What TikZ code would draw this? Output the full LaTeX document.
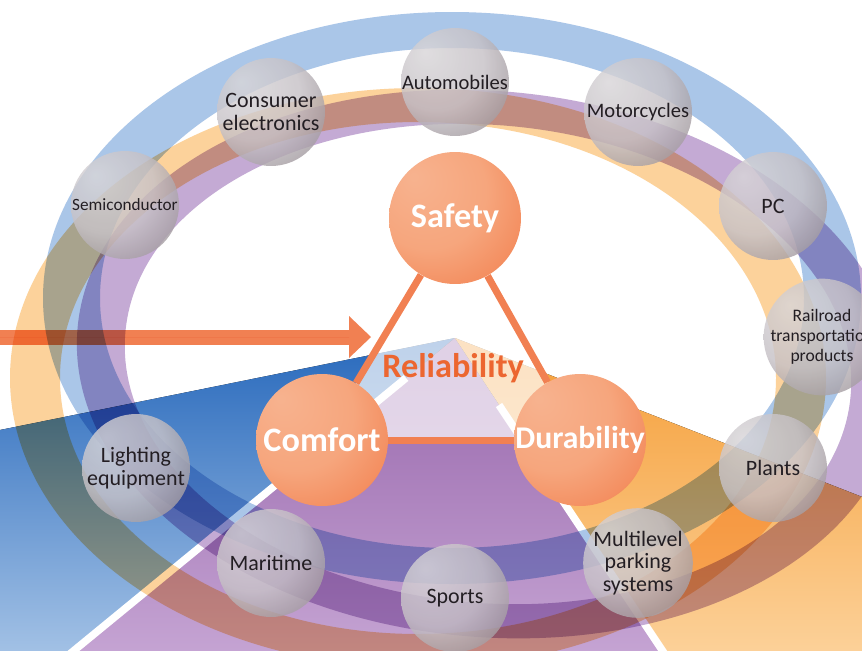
\documentclass[tikz,border=0pt]{standalone}
\usepackage{fontspec}
\setmainfont{Carlito}
\usepackage{xcolor}
\usetikzlibrary{arrows.meta}

\definecolor{ringblue}{RGB}{170,198,232}
\definecolor{ringorange}{RGB}{252,210,155}
\definecolor{ringpurple}{RGB}{196,170,212}
\definecolor{blueTop}{RGB}{40,105,188}
\definecolor{blueBottom}{RGB}{165,195,230}
\definecolor{purpleTop}{RGB}{150,100,170}
\definecolor{purpleBottom}{RGB}{198,165,212}
\definecolor{orangeTop}{RGB}{245,158,55}
\definecolor{orangeBottom}{RGB}{252,210,155}
\definecolor{linkorange}{RGB}{241,128,82}
\definecolor{titleorange}{RGB}{236,102,48}
\definecolor{labelgrey}{RGB}{35,30,35}

\pgfdeclareradialshading{glassball}{\pgfpoint{-14bp}{14bp}}{%
  rgb(0bp)=(0.85,0.84,0.85); rgb(22bp)=(0.78,0.76,0.78); rgb(44bp)=(0.54,0.50,0.52); rgb(60bp)=(0.42,0.38,0.40)}
\pgfdeclareradialshading{orangeball}{\pgfpoint{-16bp}{16bp}}{%
  rgb(0bp)=(0.97,0.70,0.56); rgb(22bp)=(0.965,0.65,0.49); rgb(34bp)=(0.955,0.56,0.38); rgb(44bp)=(0.94,0.43,0.21); rgb(60bp)=(0.93,0.37,0.15)}

\pgfdeclarelayer{faces}
\pgfdeclarelayer{rings}
\pgfdeclarelayer{links}
\pgfsetlayers{faces,rings,links,main}

\begin{document}
\begin{tikzpicture}[x=0.02cm, y=-0.02cm,
    value/.style={circle, shading=orangeball, minimum size=2.64cm, inner sep=0pt, text=white, font=\fontsize{19.5}{22}\selectfont\bfseries},
    field/.style={circle, shading=glassball, fill opacity=0.82, text opacity=1, minimum size=2.16cm, inner sep=0pt, align=center, text=labelgrey, font=\fontsize{12.5}{13}\selectfont},
    link/.style={draw=linkorange, line width=0.14cm},
    gap/.style={draw=white, line width=0.15cm},
    bigarrow/.style={-{Triangle[length=0.44cm, width=0.84cm, line width=0pt]}, draw=linkorange, fill=linkorange, line width=0.3cm}
]
    \useasboundingbox (0,0) rectangle (862,650);

    % Wartosci - duze kule
    \node[value] (safety) at (455,218) {Safety};
    \node[value] (comfort) at (322,440) {Comfort};
    \node[value, font=\fontsize{18}{20}\selectfont\bfseries] (durability) at (580,440) {Durability};

    % Branze - szklane kule
    \node[field, font=\fontsize{11.7}{13}\selectfont] (automobiles) at (455,82) {Automobiles};
    \node[field] (consumer) at (271,112) {Consumer\\electronics};
    \node[field, font=\fontsize{9.8}{11}\selectfont] (semiconductor) at (125,205) {Semiconductor};
    \node[field, font=\fontsize{11.7}{13}\selectfont] (motorcycles) at (638,112) {Motorcycles};
    \node[field] (pc) at (773,206) {PC};
    \node[field, font=\fontsize{10}{11.3}\selectfont] (railroad) at (822,337) {Railroad\\transportation\\products};
    \node[field] (plants) at (773,468) {Plants};
    \node[field] (parking) at (638,563) {Multilevel\\parking\\systems};
    \node[field] (sports) at (455,598) {Sports};
    \node[field] (maritime) at (271,563) {Maritime};
    \node[field] (lighting) at (136,468) {Lighting\\equipment};

    \coordinate (apex) at (455,338);
    \coordinate (arrowstart) at (-10,337);
    \coordinate (arrowtip) at (371,337);

    % Piramida w tle
    \begin{pgfonlayer}{faces}
        \fill[white] (0,0) rectangle (862,650);
        \fill[top color=blueTop, bottom color=blueBottom] (apex) -- (-10,432) -- (-10,660) -- (62,660) -- cycle;
        \fill[top color=purpleTop, bottom color=purpleBottom] (apex) -- (62,660) -- (668,660) -- cycle;
        \fill[top color=orangeTop, bottom color=orangeBottom] (apex) -- (870,500) -- (870,660) -- (668,660) -- cycle;
        \draw[gap] (406,378) -- (60,662);
        \draw[gap] (499,405) -- (670,662);
    \end{pgfonlayer}

    % Pierscienie i strzalka
    \begin{pgfonlayer}{rings}
        \begin{scope}[blend mode=multiply]
            \fill[ringblue, even odd rule] (452,298) ellipse [x radius=409, y radius=286] (452,298) ellipse [x radius=352, y radius=250];
            \fill[ringorange, even odd rule] (418,378) ellipse [x radius=408, y radius=290] (418,378) ellipse [x radius=358, y radius=256];
            \fill[ringpurple, even odd rule, rotate around={-5:(488,364)}] (488,364) ellipse [x radius=412, y radius=273] (488,364) ellipse [x radius=364, y radius=239];
            \draw[bigarrow] (arrowstart) -- (arrowtip);
        \end{scope}
    \end{pgfonlayer}

    % Trojkat niezawodnosci
    \begin{pgfonlayer}{links}
        \fill[white, fill opacity=0.7] (safety.center) -- (comfort.center) -- (durability.center) -- cycle;
        \draw[link] (safety) -- (comfort);
        \draw[link] (safety) -- (durability);
        \draw[link] (comfort) -- (durability);
        \node[text=titleorange, font=\fontsize{19.5}{22}\selectfont\bfseries] (reliability) at (453,368) {Reliability};
    \end{pgfonlayer}
\end{tikzpicture}
\end{document}
